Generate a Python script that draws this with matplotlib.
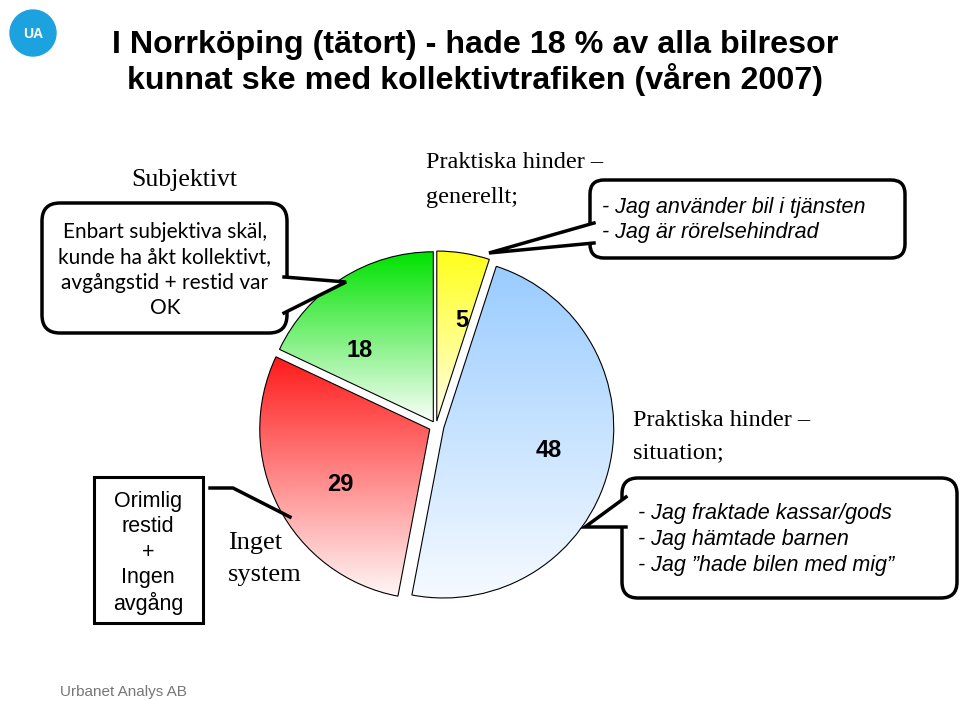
import numpy as np
import matplotlib
matplotlib.use("Agg")
import matplotlib.pyplot as plt
from matplotlib.colors import LinearSegmentedColormap
from matplotlib.patches import FancyBboxPatch, Polygon, Circle, Rectangle

# data
shares = [5, 48, 29, 18]
top_colors = ["#FFFF1A", "#99CCFF", "#FF1A1A", "#00E200"]
bottom_colors = ["#FFFFE8", "#F6FAFF", "#FFF6F6", "#FBFFFB"]
explode = [5, 8, 7, 5]  # pixels, pie explode is in data units
label_shift = [(7, 10), (-4, -5), (11, 4), (-14, 23)]  # px nudges of value labels

SANS = "Liberation Sans"
SERIF = "Liberation Serif"
CALI = "Lato"

W, H = 960, 701
Y = lambda y: H - y  # pixel row -> data y

fig = plt.figure(figsize=(9.6, 7.01), dpi=100)
ax = fig.add_axes([0, 0, 1, 1])

CX, CY, R = 436, 426, 170
wedges, texts, autotexts = ax.pie(
    shares, explode=explode, startangle=90, counterclock=False,
    center=(CX, Y(CY)), radius=R, frame=True, colors=top_colors,
    autopct=lambda p: f"{p:.0f}", pctdistance=0.66,
    wedgeprops=dict(edgecolor="black", linewidth=0.8),
    textprops=dict(fontsize=17, fontweight="bold", family=SANS, color="black"),
)

# vertical gradient fill per slice
grad = np.linspace(0, 1, 256).reshape(-1, 1)
for w, c_top, c_bot in zip(wedges, top_colors, bottom_colors):
    t = np.radians(np.linspace(w.theta1, w.theta2, 200))
    xs = np.r_[w.center[0], w.center[0] + w.r * np.cos(t)]
    ys = np.r_[w.center[1], w.center[1] + w.r * np.sin(t)]
    cm = LinearSegmentedColormap.from_list("g", [c_top, c_bot])
    im = ax.imshow(grad, extent=(xs.min(), xs.max(), ys.min(), ys.max()),
                   origin="upper", cmap=cm, aspect="auto", interpolation="bicubic",
                   zorder=w.get_zorder() - 0.1)
    im.set_clip_path(w)
    w.set_facecolor("none")
for t, (dx, dy) in zip(autotexts, label_shift):
    x, y = t.get_position()
    t.set_position((x + dx, y - dy))
    t.set_zorder(5)


def callout(x0, y0, x1, y1, tail, rad=16):
    box = FancyBboxPatch((x0, Y(y1)), x1 - x0, y1 - y0,
                         boxstyle=f"round,pad=0,rounding_size={rad}",
                         facecolor="white", edgecolor="black", linewidth=2.5, zorder=6)
    ax.add_patch(box)
    (ax_, ay_), (tx, ty), (bx, by) = tail
    ax.add_patch(Polygon([(ax_, Y(ay_)), (tx, Y(ty)), (bx, Y(by))], closed=True,
                         facecolor="white", edgecolor="none", zorder=7))
    ax.plot([ax_, tx, bx], [Y(ay_), Y(ty), Y(by)], color="black", lw=2.5,
            solid_joinstyle="miter", zorder=8)


def lines(x, y0, step, strs, **kw):
    for i, s in enumerate(strs):
        ax.text(x, Y(y0 + i * step), s, va="center", zorder=9, **kw)


# logo
ax.add_patch(Circle((33, Y(33)), 23, color="#1DA2E0", zorder=3))
ax.text(33, Y(34), "UA", ha="center", va="center", color="white",
        fontsize=10, fontweight="bold", family=SANS)

# title
lines(475, 45, 35, ["I Norrköping (tätort) - hade 18 % av alla bilresor",
                    "kunnat ske med kollektivtrafiken (våren 2007)"],
      ha="center", fontsize=23.2, fontweight="bold", family=SANS)

# subjective callout
ax.text(184, Y(180), "Subjektivt", ha="center", va="center", fontsize=18.5, family=SERIF)
callout(42, 203, 287, 333, [(284, 277), (346, 282), (284, 313)], rad=18)
lines(165, 232, 25.5, ["Enbart subjektiva skäl,", "kunde ha åkt kollektivt,",
                       "avgångstid + restid var", "OK"],
      ha="center", fontsize=15, family=CALI)

# practical - general
lines(426, 163, 34, ["Praktiska hinder –", "generellt;"], ha="left", fontsize=17.5, family=SERIF)
callout(590, 180, 905, 258, [(594, 223), (489, 253), (594, 243)], rad=14)
lines(602, 207, 25.5, ["- Jag använder bil i tjänsten", "- Jag är rörelsehindrad"],
      ha="left", fontsize=15.5, style="italic", family=SANS)

# practical - situation
lines(633, 420, 33, ["Praktiska hinder –", "situation;"], ha="left", fontsize=17.5, family=SERIF)
callout(622, 478, 957, 598, [(626, 497), (585, 527), (626, 527)], rad=16)
lines(638, 513, 26, ["- Jag fraktade kassar/gods", "- Jag hämtade barnen",
                     "- Jag ”hade bilen med mig”"],
      ha="left", fontsize=15.5, style="italic", family=SANS)

# no system
ax.add_patch(Rectangle((94, Y(623)), 109, 146, facecolor="white",
                       edgecolor="black", linewidth=2.2, zorder=6))
lines(148, 501, 25.5, ["Orimlig", "restid", "+", "Ingen", "avgång"],
      ha="center", fontsize=15.5, family=SANS)
ax.plot([210, 233, 290], [Y(488), Y(488), Y(517)], color="black", lw=2.5, zorder=8)
lines(228, 543, 32, ["Inget", "system"], ha="left", fontsize=19, family=SERIF)

ax.text(60, Y(692), "Urbanet Analys AB", ha="left", va="center",
        fontsize=11, color="#777777", family=SANS)

ax.set_xlim(0, W)
ax.set_ylim(0, H)
ax.axis("off")
fig.savefig("out.png", dpi=100)
